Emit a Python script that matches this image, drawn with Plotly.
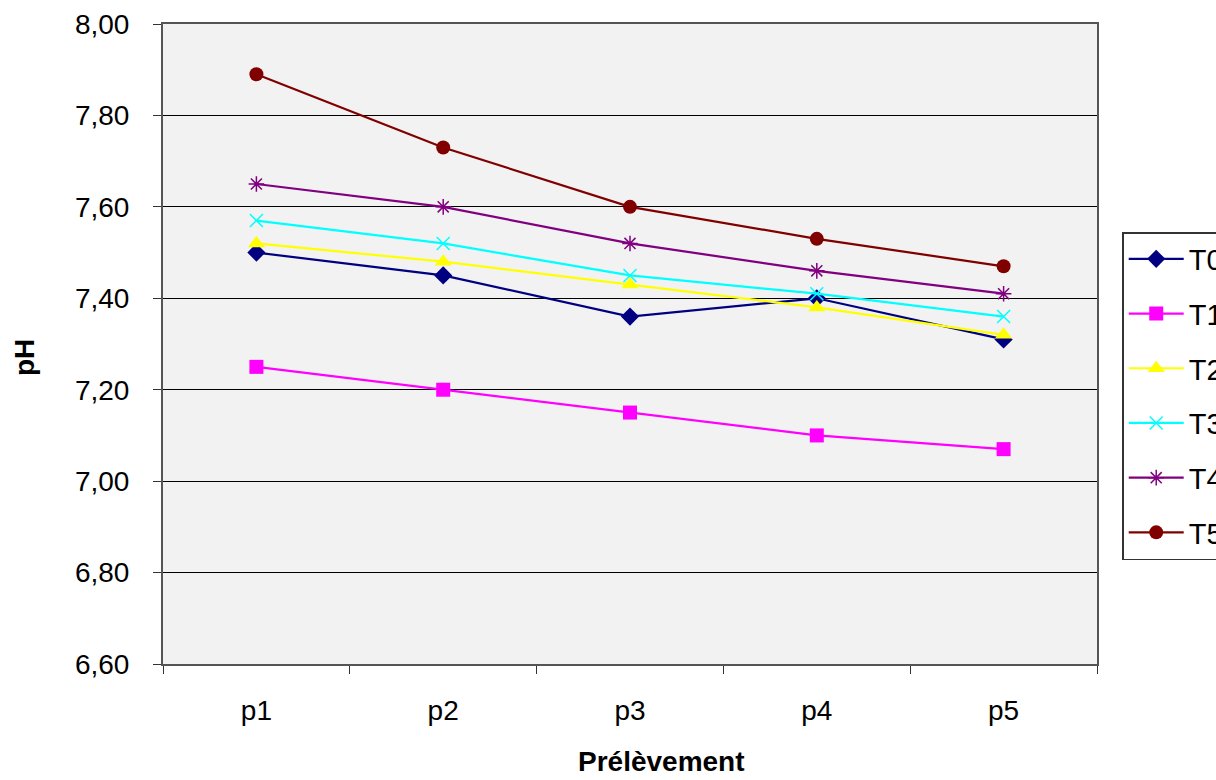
import plotly.graph_objects as go

categories = ["p1", "p2", "p3", "p4", "p5"]
T0 = [7.50, 7.45, 7.36, 7.40, 7.31]
T1 = [7.25, 7.20, 7.15, 7.10, 7.07]
T2 = [7.52, 7.48, 7.43, 7.38, 7.32]
T3 = [7.57, 7.52, 7.45, 7.41, 7.36]
T4 = [7.65, 7.60, 7.52, 7.46, 7.41]
T5 = [7.89, 7.73, 7.60, 7.53, 7.47]
names = ["T0", "T1", "T2", "T3", "T4", "T5"]
series = [T0, T1, T2, T3, T4, T5]
y_ticks = [6.6, 6.8, 7.0, 7.2, 7.4, 7.6, 7.8, 8.0]

styles = [
    dict(color="#000080", symbol="diamond", size=14, lw=0),
    dict(color="#FF00FF", symbol="square", size=14, lw=0),
    dict(color="#FFFF00", symbol="triangle-up", size=15, lw=0),
    dict(color="#00FFFF", symbol="x-thin", size=13, lw=1.5),
    dict(color="#800080", symbol="asterisk", size=13, lw=1.5),
    dict(color="#800000", symbol="circle", size=14, lw=0),
]

fig = go.Figure()
for name, vals, st in zip(names, series, styles):
    fig.add_trace(go.Scatter(
        x=categories, y=vals, name=name, mode="lines+markers",
        line=dict(color=st["color"], width=2.2),
        marker=dict(symbol=st["symbol"], size=st["size"], color=st["color"],
                    line=dict(color=st["color"], width=st["lw"])),
        legendgroup=name,
    ))

font = "Liberation Sans, Arial, sans-serif"
fig.update_layout(
    width=1216, height=780,
    margin=dict(l=163, r=119, t=24, b=116, autoexpand=False),
    paper_bgcolor="white", plot_bgcolor="#F2F2F2",
    separators=", ",
    font=dict(family=font, size=28, color="black"),
    showlegend=True,
    legend=dict(x=1.027, y=0.675, xanchor="left", yanchor="top",
                bgcolor="white", bordercolor="#333", borderwidth=1.5,
                font=dict(size=29, family=font), tracegroupgap=14,
                itemwidth=55),
    xaxis=dict(type="category", tickson="boundaries", ticks="outside",
               ticklen=8, tickcolor="#333", showline=True, linecolor="#555",
               linewidth=2, mirror=True, showgrid=False,
               tickfont=dict(size=28), ticklabelstandoff=20,
               range=[-0.5, 4.5]),
    yaxis=dict(range=[6.6, 8.0], tickvals=y_ticks, tickformat=".2f",
               ticks="outside", ticklen=8, tickcolor="#333",
               showline=True, linecolor="#555", linewidth=2, mirror=True,
               showgrid=True, gridcolor="#000", gridwidth=1.2,
               tickfont=dict(size=28), ticklabelstandoff=18, zeroline=False),
    annotations=[
        dict(text="<b>pH</b>", x=-0.1488, y=0.478, xref="paper", yref="paper",
             textangle=-90, showarrow=False, font=dict(size=28),
             xanchor="center", yanchor="middle"),
        dict(text="<b>Prélèvement</b>", x=0.534, y=-0.179, xref="paper",
             yref="paper", showarrow=False, font=dict(size=28),
             xanchor="center", yanchor="bottom"),
    ],
)

fig.write_html("out.html")
